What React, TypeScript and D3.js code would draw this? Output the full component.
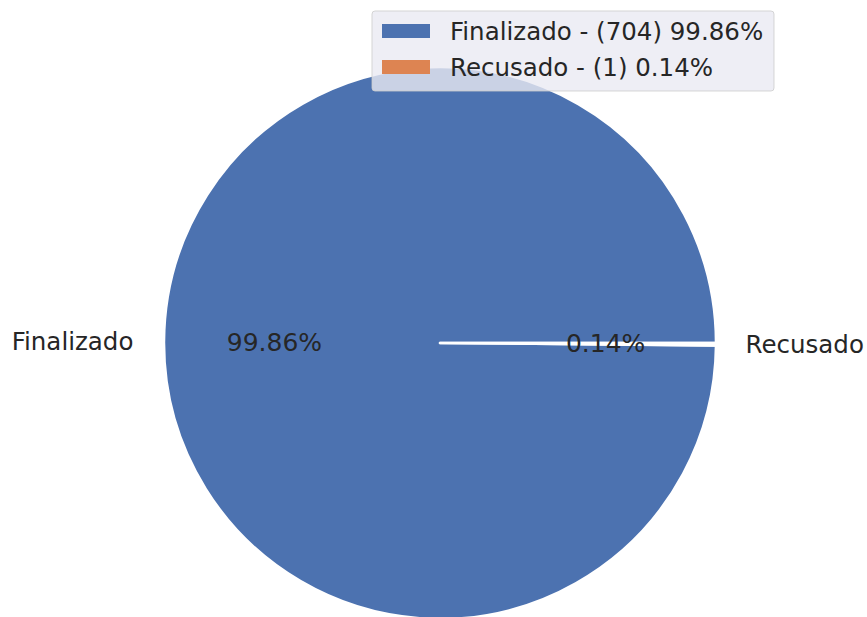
import React from "react";
import * as d3 from "d3";

const categories = ["Finalizado", "Recusado"];
const counts = [704, 1];
const colors = ["#4c72b0", "#dd8452"];

const W = 867;
const H = 617;
const CX = 440;
const CY = 343;
const R = 276;
const FONT = "DejaVu Sans, sans-serif";
const FS = 24.5;
const FS_PCT = 25;

export default function App() {
  const total = d3.sum(counts);
  const data = categories.map((c, i) => ({ name: c, value: counts[i], color: colors[i] }));
  const pie = d3
    .pie<any>()
    .value((d) => d.value)
    .sort(null)
    .startAngle(Math.PI / 2)
    .endAngle(Math.PI / 2 - 2 * Math.PI);
  const arcs = pie(data);
  const arc = d3.arc<any>().innerRadius(0).outerRadius(R);
  const pct = (v: number) => ((v / total) * 100).toFixed(2) + "%";

  const pos = (a: any, f: number) => {
    const mid = (a.startAngle + a.endAngle) / 2;
    return [Math.sin(mid) * R * f, -Math.cos(mid) * R * f];
  };

  return (
    <svg
      width={W}
      height={H}
      style={{ position: "absolute", left: 0, top: 0, background: "#ffffff" }}
      fontFamily={FONT}
    >
      <g transform={`translate(${CX},${CY})`}>
        {arcs.map((a, i) => (
          <path key={i} d={arc(a) as string} fill={a.data.color} stroke="#ffffff" strokeWidth={2.5} strokeLinejoin="round" />
        ))}
        {arcs.map((a, i) => {
          const [x, y] = pos(a, 0.6);
          return (
            <text key={"p" + i} x={x} y={y} textAnchor="middle" dominantBaseline="central" fontSize={FS_PCT} fill="#262626">
              {pct(a.data.value)}
            </text>
          );
        })}
        {arcs.map((a, i) => {
          const [x, y] = pos(a, 1.1);
          return (
            <text
              key={"l" + i}
              x={x < 0 ? x - 3 : x + 2}
              y={y}
              textAnchor={x < 0 ? "end" : "start"}
              dominantBaseline="central"
              fontSize={FS}
              fill="#262626"
            >
              {a.data.name}
            </text>
          );
        })}
      </g>
      <g transform="translate(372,11)">
        <rect x={0} y={0} width={402} height={80} rx={3} fill="#eaeaf2" fillOpacity={0.8} stroke="#cccccc" strokeOpacity={0.8} />
        {data.map((d, i) => (
          <g key={i} transform={`translate(0,${i * 36})`}>
            <rect x={10} y={13} width={48} height={14} fill={d.color} />
            <text x={78} y={20} dominantBaseline="central" fontSize={FS} fill="#262626">
              {`${d.name} - (${d.value}) ${pct(d.value)}`}
            </text>
          </g>
        ))}
      </g>
    </svg>
  );
}
